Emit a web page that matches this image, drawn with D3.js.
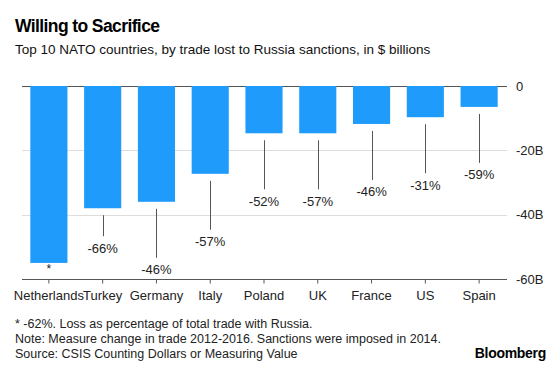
<!DOCTYPE html>
<html>
<head>
<meta charset="utf-8">
<script src="https://cdn.jsdelivr.net/npm/d3@7/dist/d3.min.js"></script>
<style>
  html, body { margin: 0; padding: 0; background: #fff; }
  svg { display: block; font-family: "Liberation Sans", Arial, Helvetica, sans-serif; }
</style>
</head>
<body>
<svg id="chart" width="560" height="368"></svg>
<script>
// ---- data ----
const countries = ["Netherlands", "Turkey", "Germany", "Italy", "Poland", "UK", "France", "US", "Spain"];
const tradeLost = [-55, -38, -36, -27.3, -14.7, -14.7, -11.8, -9.7, -6.5];
const pctLabels = ["*", "-66%", "-46%", "-57%", "-52%", "-57%", "-46%", "-31%", "-59%"];
const yTicks = [0, -20, -40, -60];
const yTickLabels = ["0", "-20B", "-40B", "-60B"];

// ---- layout ----
const svg = d3.select("#chart");
const plotLeft = 22, plotRight = 506, plotTop = 86, plotBottom = 279;
const leaderLen = { "Turkey": 21 };

const x = d3.scaleBand().domain(countries).range([plotLeft, plotRight]).paddingInner(0.31).paddingOuter(0.155);
const y = d3.scaleLinear().domain([-60, 0]).range([plotBottom, plotTop]);

// title
svg.append("text").attr("x", 15).attr("y", 32).attr("font-size", 17.5).attr("font-weight", "bold")
  .attr("fill", "#000").attr("letter-spacing", -0.6).text("Willing to Sacrifice");
svg.append("text").attr("x", 15).attr("y", 54).attr("font-size", 13.5).attr("fill", "#111")
  .text("Top 10 NATO countries, by trade lost to Russia sanctions, in $ billions");

// gridlines
const grid = svg.append("g");
yTicks.forEach((t, i) => {
  grid.append("line").attr("x1", plotLeft).attr("x2", plotRight + 1)
    .attr("y1", Math.round(y(t)) + 0.5).attr("y2", Math.round(y(t)) + 0.5)
    .attr("stroke", (t === 0 || t === -60) ? "#555" : "#ddd").attr("stroke-width", 1);
  grid.append("text").attr("x", 516).attr("y", y(t) + 4.5).attr("font-size", 13).attr("fill", "#222")
    .text(yTickLabels[i]);
});

// bars
const data = countries.map((c, i) => ({ c, v: tradeLost[i], p: pctLabels[i] }));
svg.append("g").selectAll("rect").data(data).join("rect")
  .attr("x", d => x(d.c)).attr("width", x.bandwidth())
  .attr("y", y(0)).attr("height", d => y(d.v) - y(0))
  .attr("fill", "#1f9bfb");

// leaders + labels
const ann = svg.append("g");
data.forEach(d => {
  const cx = x(d.c) + x.bandwidth() / 2;
  const yb = y(d.v);
  if (d.p === "*") {
    ann.append("text").attr("x", cx).attr("y", yb + 10).attr("text-anchor", "middle")
      .attr("font-size", 12).attr("fill", "#222").text("*");
    return;
  }
  const len = leaderLen[d.c] || 49;
  const y0 = yb + 7, y1 = y0 + len;
  ann.append("line").attr("x1", Math.round(cx) + 0.5).attr("x2", Math.round(cx) + 0.5)
    .attr("y1", y0).attr("y2", y1).attr("stroke", "#555").attr("stroke-width", 1);
  ann.append("text").attr("x", cx).attr("y", y1 + 16.5).attr("text-anchor", "middle")
    .attr("font-size", 13).attr("fill", "#222").text(d.p);
});

// x axis
const xAxis = d3.axisBottom(x).tickSize(4).tickPadding(7);
const gx = svg.append("g").attr("transform", `translate(0,${Math.round(plotBottom) + 0.5})`).call(xAxis);
gx.select(".domain").remove();
gx.selectAll(".tick line").attr("stroke", "#555");
gx.selectAll(".tick text").attr("font-size", 13).attr("fill", "#222")
  .attr("font-family", "'Liberation Sans', Arial, sans-serif");

// footnotes
const notes = [
  "* -62%. Loss as percentage of total trade with Russia.",
  "Note: Measure change in trade 2012-2016. Sanctions were imposed in 2014.",
  "Source: CSIS Counting Dollars or Measuring Value"
];
notes.forEach((n, i) => {
  svg.append("text").attr("x", 15).attr("y", 328 + i * 15).attr("font-size", 12.5).attr("fill", "#222").text(n);
});
svg.append("text").attr("x", 546).attr("y", 358).attr("text-anchor", "end").attr("font-size", 14)
  .attr("font-weight", "bold").attr("fill", "#000").attr("letter-spacing", -0.3).text("Bloomberg");
</script>
</body>
</html>
